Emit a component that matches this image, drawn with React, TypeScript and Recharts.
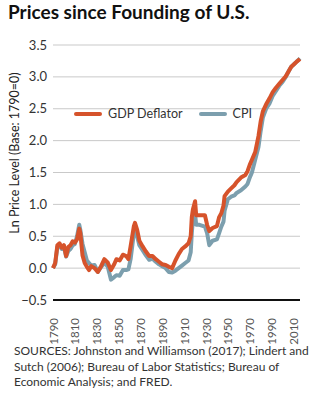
import React from "react";
import { LineChart, Line, XAxis, YAxis, CartesianGrid, Legend } from "recharts";

const years = [
  1790, 1792, 1794, 1796, 1798, 1800, 1802, 1804, 1806, 1808, 1810, 1812, 1814, 1815, 1817, 1819,
  1821, 1823, 1825, 1828, 1831, 1834, 1837, 1840, 1843, 1846, 1848, 1851, 1854, 1857, 1859, 1861,
  1864, 1865, 1867, 1869, 1872, 1875, 1878, 1881, 1884, 1887, 1890, 1893, 1896, 1899, 1902, 1905,
  1908, 1911, 1914, 1916, 1917, 1918, 1920, 1921, 1924, 1929, 1931, 1933, 1936, 1940, 1942, 1944,
  1946, 1947, 1950, 1953, 1956, 1958, 1962, 1966, 1968, 1970, 1972, 1975, 1978, 1980, 1982, 1985,
  1988, 1991, 1994, 1997, 2000, 2003, 2006, 2008, 2010, 2013, 2016,
];

const gdpDeflator = [
  0.0, 0.08, 0.36, 0.39, 0.32, 0.36, 0.19, 0.33, 0.36, 0.42, 0.4, 0.45, 0.62, 0.55, 0.2, 0.08,
  0.02, -0.03, 0.03, 0.0, -0.06, 0.03, 0.14, 0.09, -0.03, 0.06, 0.14, 0.12, 0.21, 0.19, 0.14, 0.34,
  0.66, 0.71, 0.6, 0.43, 0.34, 0.26, 0.19, 0.19, 0.14, 0.1, 0.06, 0.05, 0.02, 0.0, 0.12, 0.22,
  0.3, 0.34, 0.39, 0.5, 0.8, 0.92, 1.05, 0.83, 0.83, 0.83, 0.68, 0.58, 0.63, 0.66, 0.8, 0.86,
  0.98, 1.13, 1.2, 1.25, 1.3, 1.35, 1.42, 1.46, 1.52, 1.62, 1.7, 1.82, 2.07, 2.3, 2.46, 2.57,
  2.66, 2.76, 2.83, 2.89, 2.95, 3.01, 3.1, 3.16, 3.19, 3.24, 3.28,
];

const cpi = [
  0.0, 0.06, 0.33, 0.36, 0.3, 0.33, 0.18, 0.27, 0.3, 0.36, 0.38, 0.5, 0.68, 0.6, 0.38, 0.25,
  0.12, 0.08, 0.04, 0.05, -0.06, 0.02, 0.08, 0.03, -0.18, -0.14, -0.11, -0.12, -0.03, -0.03, -0.02, 0.14,
  0.55, 0.66, 0.5, 0.36, 0.28, 0.2, 0.13, 0.15, 0.1, 0.06, 0.03, 0.0, -0.06, -0.07, -0.04, 0.0,
  0.04, 0.08, 0.12, 0.25, 0.55, 0.76, 0.85, 0.68, 0.68, 0.65, 0.55, 0.36, 0.43, 0.45, 0.55, 0.65,
  0.73, 0.9, 1.08, 1.12, 1.14, 1.18, 1.22, 1.28, 1.32, 1.42, 1.5, 1.7, 1.9, 2.15, 2.36, 2.5,
  2.58, 2.7, 2.78, 2.86, 2.92, 3.0, 3.1, 3.16, 3.19, 3.24, 3.29,
];

const xTicks = [1790, 1810, 1830, 1850, 1870, 1890, 1910, 1930, 1950, 1970, 1990, 2010];
const yTicks = [-0.5, 0, 0.5, 1, 1.5, 2, 2.5, 3, 3.5];

const sourceLines = [
  "SOURCES: Johnston and Williamson (2017); Lindert and",
  "Sutch (2006); Bureau of Labor Statistics; Bureau of",
  "Economic Analysis; and FRED.",
];

const RED = "#d6532b";
const BLUE = "#7c9fae";
const FONT = "Lato, 'Open Sans', sans-serif";

const rows = years.map((year, i) => ({ year, gdp: gdpDeflator[i], cpi: cpi[i] }));

function YearTick({ x, y, payload }: any) {
  const top = y + 10;
  return (
    <text
      x={x}
      y={top}
      transform={`rotate(-90, ${x}, ${top})`}
      textAnchor="end"
      dominantBaseline="central"
      fontSize={11.5}
      fill="#555"
      fontFamily={FONT}
    >
      {payload.value}
    </text>
  );
}

function LegendBox() {
  const item = (color: string, label: string) => (
    <div style={{ display: "flex", alignItems: "center", marginRight: 16 }}>
      <div style={{ width: 28, height: 4, borderRadius: 2, background: color, marginRight: 6 }} />
      <span style={{ fontSize: 12.5, color: "#333", fontFamily: FONT }}>{label}</span>
    </div>
  );
  return (
    <div style={{ display: "flex" }}>
      {item(RED, "GDP Deflator")}
      {item(BLUE, "CPI")}
    </div>
  );
}

export default function App() {
  return (
    <div
      style={{
        position: "absolute",
        left: 0,
        top: 0,
        width: 330,
        height: 399,
        overflow: "hidden",
        background: "#fff",
        fontFamily: FONT,
      }}
    >
      <div
        style={{
          position: "absolute",
          left: 8,
          top: 0,
          fontSize: 19,
          fontWeight: 700,
          color: "#111",
          lineHeight: "normal",
          whiteSpace: "nowrap",
        }}
      >
        Prices since Founding of U.S.
      </div>

      <div
        style={{
          position: "absolute",
          left: 14,
          top: 153,
          transform: "translate(-50%, -50%) rotate(-90deg)",
          fontSize: 12.5,
          color: "#222",
          whiteSpace: "nowrap",
        }}
      >
        Ln Price Level (Base: 1790=0)
      </div>

      <div style={{ position: "absolute", left: 0, top: 0 }}>
        <LineChart width={330} height={350} data={rows} margin={{ top: 30, right: 30, bottom: 0, left: 0 }}>
          <CartesianGrid horizontal vertical={false} stroke="#c9c9c9" strokeWidth={1} />
          <XAxis
            dataKey="year"
            type="number"
            domain={[1790, 2016]}
            ticks={xTicks}
            interval={0}
            height={50}
            tickLine={false}
            axisLine={{ stroke: "#111", strokeWidth: 2 }}
            tick={<YearTick />}
          />
          <YAxis
            type="number"
            domain={[-0.5, 3.5]}
            ticks={yTicks}
            interval={0}
            width={53}
            tickLine={false}
            axisLine={false}
            tickSize={0}
            tickMargin={6}
            tick={{ fill: "#333", fontSize: 13, fontFamily: FONT }}
            tickFormatter={(v: number) => (v < 0 ? "\u2212" + Math.abs(v).toFixed(1) : v.toFixed(1))}
          />
          <Legend
            verticalAlign="top"
            content={() => <LegendBox />}
            wrapperStyle={{ position: "absolute", top: 106, left: 74, width: "auto" }}
          />
          <Line
            type="linear"
            dataKey="cpi"
            name="CPI"
            stroke={BLUE}
            strokeWidth={4}
            dot={false}
            strokeLinejoin="round"
            isAnimationActive={false}
          />
          <Line
            type="linear"
            dataKey="gdp"
            name="GDP Deflator"
            stroke={RED}
            strokeWidth={4}
            dot={false}
            strokeLinejoin="round"
            isAnimationActive={false}
          />
        </LineChart>
      </div>

      <div
        style={{
          position: "absolute",
          left: 14,
          top: 343,
          fontSize: 12,
          lineHeight: "15.5px",
          color: "#333",
          whiteSpace: "nowrap",
        }}
      >
        {sourceLines.map((line) => (
          <div key={line}>{line}</div>
        ))}
      </div>
    </div>
  );
}
